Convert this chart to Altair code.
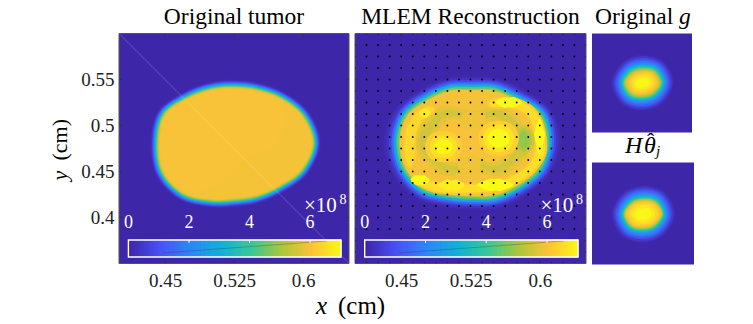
import math
import altair as alt
import pandas as pd

SERIF = "Liberation Serif"
PARULA = ["#3e26a8", "#4852f4", "#2d87f7", "#12b1d6", "#37c897", "#abc739", "#fec338", "#f9fb14"]
CB_MAX = 7.02
FILL = alt.Scale(domain=[CB_MAX * i / 7 for i in range(8)], range=PARULA, interpolate="rgb")

# ---- Original tumor: contour level, then radius (1e-3 cm) at 16 compass steps
T_CENTER = (0.5258, 0.4810)
T_RINGS = [
    (0.1,  [94,88,78,71,69,72,79,91,92,93,87,76,70,71,76,87]),
    (0.3,  [93,87,77,70,68,71,78,90,91,92,86,75,69,70,75,86]),
    (0.7,  [92,86,76,69,67,70,77,89,90,91,85,74,68,69,74,85]),
    (1.3,  [91,85,75,68,66,69,76,88,89,90,84,73,67,68,73,84]),
    (2.0,  [90,84,74,67,65,68,75,87,88,89,83,72,66,67,72,83]),
    (2.8,  [89,83,73,66,64,67,74,86,87,88,82,71,65,66,71,82]),
    (3.6,  [88,82,72,65,63,66,73,85,86,87,81,70,64,65,70,81]),
    (4.4,  [87,81,71,64,62,65,72,84,85,86,80,69,63,64,69,80]),
    (5.2,  [86,80,70,63,61,64,71,83,84,85,79,68,62,63,68,79]),
    (5.6,  [85,79,69,62,60,63,70,82,83,84,78,67,61,62,67,78]),
    (5.9,  [84,78,68,61,59,62,69,81,82,83,77,66,60,61,66,77]),
    (5.95, [45,60,66,60,58,60,67,79,80,80,73,50,30,22,22,30]),
]

# ---- MLEM reconstruction
M_CENTER = (0.5265, 0.4824)
M_RINGS = [
    (0.1,  [97,93,80,75,71,75,80,91,96,93,87,77,74,78,83,92]),
    (0.3,  [94,91,78,73,69,73,78,89,93,91,85,75,72,76,81,90]),
    (0.7,  [91,89,76,71,67,71,76,86,90,88,83,73,70,74,79,88]),
    (1.3,  [89,87,74,69,65,69,74,84,87,86,81,71,68,72,77,86]),
    (2.0,  [87,85,72,67,63,67,72,82,85,84,79,69,66,70,75,84]),
    (2.8,  [86,84,71,66,62,66,71,81,84,83,78,68,65,69,74,83]),
    (3.6,  [84,82,69,64,60,64,69,79,82,81,76,66,63,67,72,81]),
    (4.4,  [83,81,68,63,59,63,68,78,81,80,75,65,62,66,71,80]),
    (5.2,  [81,79,66,61,57,61,66,76,79,78,73,63,60,64,69,78]),
    (5.9,  [80,78,65,60,56,60,65,75,78,77,72,62,59,63,68,77]),
]
# level, centre x, centre y, radius at 8 compass steps
M_BLOBS_LOW = [
    (5.7,  0.5283, 0.4824, [64,50,34,52,64,50,32,50]),
    (5.5,  0.5283, 0.4824, [60,46,29,47,60,45,27,45]),
    (5.7,  0.5283, 0.4824, [50,37,21,39,50,37,21,37]),
    (5.95, 0.5283, 0.4824, [45,32,16,34,45,32,16,32]),
]
M_BARS = [
    (5.85, [0.5174,0.5391,0.5391,0.5174], [0.5132,0.5132,0.4969,0.4969]),
    (5.85, [0.5138,0.5337,0.5337,0.5138], [0.4643,0.4643,0.4498,0.4498]),
]
M_ARC_X = [0.5482,0.5736,0.5953,0.6044,0.6044,0.5917,0.5736,0.5482,0.5156,0.4866,0.4649,0.4667,0.4902,0.5192,0.5482,0.5700,0.5881,0.5953,0.5946,0.5863,0.5700,0.5482]
M_ARC_Y = [0.5270,0.5277,0.5150,0.4915,0.4679,0.4498,0.4371,0.4291,0.4270,0.4291,0.4389,0.4444,0.4371,0.4353,0.4371,0.4444,0.4570,0.4733,0.4951,0.5114,0.5197,0.5204]
M_LEFT_X = [0.4558,0.4667,0.4812,0.4848,0.4721,0.4649,0.4649,0.4594,0.4540]
M_LEFT_Y = [0.4951,0.5132,0.5204,0.5150,0.5060,0.4878,0.4661,0.4552,0.4697]
M_BLOBS_HIGH = [
    (7.0,  0.5997, 0.4896, [6,7,18,7,6,7,22,7]),
    (7.0,  0.5518, 0.4353, [20,9,6,9,20,9,6,9]),
    (7.0,  0.5663, 0.5252, [14,8,5,8,14,8,5,8]),
    (7.0,  0.4703, 0.4407, [10,7,5,7,10,7,5,7]),
    (6.8,  0.4757, 0.5132, [6,5,5,5,6,5,5,5]),
    (6.8,  0.5047, 0.4353, [14,8,5,8,14,8,5,8]),
    (5.5,  0.5826, 0.4842, [12,13,16,13,12,13,16,13]),
    (5.1,  0.5826, 0.4842, [9,10,13,10,9,10,13,10]),
    (4.8,  0.5826, 0.4842, [6,7,10,7,6,7,10,7]),
    (6.2,  0.5555, 0.4860, [22,21,19,21,22,21,19,21]),
    (6.6,  0.5555, 0.4860, [17,16,15,16,17,16,15,16]),
    (7.0,  0.5555, 0.4860, [12,11,10,11,12,11,10,11]),
    (6.2,  0.4957, 0.4770, [20,19,17,19,20,19,17,19]),
    (6.55, 0.4957, 0.4770, [15,14,12,14,15,14,12,14]),
    (6.9,  0.4957, 0.4770, [10,9,8,9,10,9,8,9]),
]

# ---- small panels, percent-of-panel coordinates: E, NE, N, NW (opposite side mirrors)
G_CENTER = (50.6, 50.2)
G_RINGS = [
    (0.1, [31.5,30.6,28.5,29.4]), (0.4, [30,29.1,27,27.9]), (0.8, [28,27.1,25,25.9]),
    (1.2, [26.5,25.6,23.5,24.4]), (1.6, [25,24.1,22,22.9]), (2.0, [23.8,22.7,20.5,21.5]),
    (2.5, [22.6,21.4,19,20.2]), (3.0, [21.6,20.4,18,19.2]), (3.5, [20.7,19.4,17,18.2]),
    (4.0, [19.8,18.4,16,17.2]), (4.5, [19,17.4,15,16.2]), (5.0, [18.2,16.5,14,15.3]),
    (5.4, [17.3,15.5,13,14.3]), (5.8, [15.8,14.2,11.8,13]), (6.1, [14,12.7,10.5,11.5]),
    (6.4, [12,11,9,9.8]), (6.7, [9.5,8.7,7,7.5]), (6.95, [7,6.3,4.5,5.1]),
]
H_CENTER = (50.3, 49.5)
H_RINGS = [
    (0.1, [31.5,30.6,28.5,29.4]), (0.4, [30,29.1,27,27.9]), (0.8, [28,27.1,25,25.9]),
    (1.2, [26.5,25.6,23.5,24.4]), (1.6, [25,24.1,22,22.9]), (2.0, [23.8,22.7,20.5,21.5]),
    (2.5, [22.6,21.4,19,20.2]), (3.0, [21.6,20.4,18,19.2]), (3.5, [20.7,19.4,17,18.2]),
    (4.0, [19.8,18.4,16,17.2]), (4.5, [19.3,17.7,15.3,16.6]), (5.0, [18.8,17,14.6,15.9]),
    (5.4, [18.2,16.3,13.8,15]), (5.8, [17.2,15.3,12.8,14.3]), (6.1, [15.8,14.2,11.8,13.3]),
    (6.4, [14,12.7,10.5,11.7]), (6.7, [11.5,10.2,8.5,9.5]), (6.95, [8.5,7.5,5.5,6.5]),
]

X_TICKS = [0.45, 0.525, 0.6]
Y_TICKS = [0.4, 0.45, 0.5, 0.55]
X_DOMAIN = [0.4, 0.65]
Y_DOMAIN = [0.35, 0.6]
CB_LABELS = [0, 2, 4, 6]
DOT_X = [0.4,0.4125,0.425,0.4375,0.45,0.4625,0.475,0.4875,0.5,0.5125,0.525,0.5375,0.55,0.5625,0.575,0.5875,0.6,0.6125,0.625,0.6375,0.65]
DOT_Y = [0.35,0.3625,0.375,0.3875,0.4,0.4125,0.425,0.4375,0.45,0.4625,0.475,0.4875,0.5,0.5125,0.525,0.5375,0.55,0.5625,0.575,0.5875,0.6]
CB_SLASH_X = [1.13, 6.55]
CB_SLASH_Y = [0.24, 0.94]
DIAG_X = [0.4, 0.65]
DIAG_Y = [0.6, 0.35]


def polar(rows, center, unit, store, key):
    for n, (lv, rad) in enumerate(rows):
        step = 2 * math.pi / len(rad)
        for i, r in enumerate(rad):
            store.append(dict(x=center[0] + r * unit * math.cos(i * step),
                              y=center[1] + r * unit * math.sin(i * step),
                              i=i, ring=f"{key}{n:02d}", level=lv, w=0))


def poly(lv, xs, ys, store, key, w=0):
    for i, (a, b) in enumerate(zip(xs, ys)):
        store.append(dict(x=a, y=b, i=i, ring=key, level=lv, w=w))


def axis_x():
    return alt.Axis(values=X_TICKS, format=".3~g", title=None, ticks=False, domain=False, grid=False,
                    labelFont=SERIF, labelFontSize=19, labelColor="#222222", labelPadding=8)


def axis_y():
    return alt.Axis(values=Y_TICKS, format=".3~g", title=None, ticks=False, domain=False, grid=False,
                    labelFont=SERIF, labelFontSize=19, labelColor="#222222", labelPadding=5)


def axis_unit(show_y=True):
    """Unit layer directly under the panel that carries the tick labels."""
    df = pd.DataFrame(dict(x=X_DOMAIN, y=Y_DOMAIN))
    return alt.Chart(df).mark_point(opacity=0).encode(
        x=alt.X("x:Q", scale=alt.Scale(domain=X_DOMAIN), axis=axis_x()),
        y=alt.Y("y:Q", scale=alt.Scale(domain=Y_DOMAIN), axis=axis_y() if show_y else None),
    )


def field(records, xs, ys):
    return alt.Chart(pd.DataFrame(records)).mark_line(
        interpolate="cardinal-closed", tension=0, clip=True
    ).encode(
        x=alt.X("x:Q", scale=alt.Scale(domain=xs), axis=None),
        y=alt.Y("y:Q", scale=alt.Scale(domain=ys), axis=None),
        order="i:Q",
        detail="ring:N",
        fill=alt.Fill("level:Q", scale=FILL, legend=None),
        stroke=alt.Stroke("level:Q", scale=FILL, legend=None),
        strokeWidth=alt.StrokeWidth("w:Q", scale=None),
    )


ONE = pd.DataFrame({"a": [0]})


def label(text, px, py, size, color="black", style="normal", align="left", angle=0):
    return alt.Chart(ONE).mark_text(
        font=SERIF, fontSize=size, fontStyle=style, color=color, align=align,
        baseline="alphabetic", angle=angle
    ).encode(x=alt.value(px), y=alt.value(py), text=alt.value(text))


def colorbar(r0, r1, height_top, height_bot):
    xs = alt.Scale(domain=[0, CB_MAX], range=[r0, r1])
    ys = alt.Scale(domain=[0, 1], range=[height_bot, height_top])
    lo = [CB_MAX * i / 64 for i in range(64)]
    hi = [CB_MAX * (i + 1) / 64 for i in range(64)]
    cells = alt.Chart(pd.DataFrame(dict(lo=lo, hi=hi, b=[0] * 64, t=[1] * 64))).mark_rect(strokeWidth=1).encode(
        x=alt.X("lo:Q", scale=xs, axis=None), x2="hi:Q",
        y=alt.Y("b:Q", scale=ys, axis=None), y2="t:Q",
        fill=alt.Fill("lo:Q", scale=FILL, legend=None),
        stroke=alt.Stroke("lo:Q", scale=FILL, legend=None),
    )
    slash = alt.Chart(pd.DataFrame(dict(x=CB_SLASH_X, y=CB_SLASH_Y))).mark_line(
        color="#333366", strokeWidth=0.7, opacity=0.45
    ).encode(x=alt.X("x:Q", scale=xs, axis=None), y=alt.Y("y:Q", scale=ys, axis=None))
    border = alt.Chart(ONE).mark_rect(filled=False, stroke="white", strokeWidth=1.4).encode(
        x=alt.value(r0), x2=alt.value(r1), y=alt.value(height_top), y2=alt.value(height_bot))
    lab_df = pd.DataFrame(dict(v=CB_LABELS, s=[str(v) for v in CB_LABELS]))
    ticks = alt.Chart(lab_df[lab_df.v > 0]).mark_rule(color="white", strokeWidth=1).encode(
        x=alt.X("v:Q", scale=xs, axis=None), y=alt.value(height_top), y2=alt.value(height_top + 3))
    texts = alt.Chart(lab_df).mark_text(font=SERIF, fontSize=18, color="white", baseline="alphabetic").encode(
        x=alt.X("v:Q", scale=xs, axis=None), y=alt.value(194), text="s:N")
    return alt.layer(cells, slash, border, ticks, texts)


def frame_ticks(w, h):
    xs = alt.Scale(domain=X_DOMAIN)
    ys = alt.Scale(domain=Y_DOMAIN)
    xdf = pd.DataFrame(dict(v=X_TICKS))
    ydf = pd.DataFrame(dict(v=Y_TICKS))
    layers = []
    for a, b in ((h, h - 3), (0, 3)):
        layers.append(alt.Chart(xdf).mark_rule(color="#333333", strokeWidth=1).encode(
            x=alt.X("v:Q", scale=xs, axis=None), y=alt.value(a), y2=alt.value(b)))
    for a, b in ((0, 3), (w, w - 3)):
        layers.append(alt.Chart(ydf).mark_rule(color="#333333", strokeWidth=1).encode(
            y=alt.Y("v:Q", scale=ys, axis=None), x=alt.value(a), x2=alt.value(b)))
    border = alt.Chart(ONE).mark_rect(filled=False, stroke="#555555", strokeWidth=1).encode(
        x=alt.value(0), x2=alt.value(w), y=alt.value(0), y2=alt.value(h))
    return layers + [border]


VIEW = alt.ViewConfig(fill=PARULA[0], stroke=None)

# panel 1
rec = []
polar(T_RINGS, T_CENTER, 0.001, rec, "t")
diag = alt.Chart(pd.DataFrame(dict(x=DIAG_X, y=DIAG_Y))).mark_line(
    color="white", strokeWidth=1, opacity=0.2, clip=True
).encode(x=alt.X("x:Q", scale=alt.Scale(domain=X_DOMAIN), axis=None),
         y=alt.Y("y:Q", scale=alt.Scale(domain=Y_DOMAIN), axis=None))
main1 = alt.layer(field(rec, X_DOMAIN, Y_DOMAIN), diag, *frame_ticks(230, 230))
cb1 = colorbar(9.4, 222, 206.5, 223.5)
text1 = alt.layer(
    label("Original tumor", 115, -10, 23.5, align="center"),
    label("×10", 185, 178, 21, color="white"),
    label("8", 220.5, 170, 14, color="white"),
    label("x", 197, 280, 25, style="italic"),
    label("(cm)", 219, 280, 25),
    label("y", -52, 147, 22, style="italic", angle=270),
    label("(cm)", -52, 127, 22, angle=270),
)
p1 = alt.layer(axis_unit(True), main1, cb1, text1).resolve_scale(x="independent", y="independent").properties(
    width=230, height=230, view=VIEW)

# panel 2
rec = []
polar(M_RINGS, M_CENTER, 0.001, rec, "m")
for n, (lv, cx, cy, rad) in enumerate(M_BLOBS_LOW):
    polar([(lv, rad)], (cx, cy), 0.001, rec, f"n{n}")
for n, (lv, xs, ys) in enumerate(M_BARS):
    poly(lv, xs, ys, rec, f"o{n}")
poly(6.1, M_ARC_X, M_ARC_Y, rec, "p0", w=4)
poly(6.1, M_LEFT_X, M_LEFT_Y, rec, "p1", w=3)
poly(6.5, M_ARC_X, M_ARC_Y, rec, "p2")
poly(6.4, M_LEFT_X, M_LEFT_Y, rec, "p3")
for n, (lv, cx, cy, rad) in enumerate(M_BLOBS_HIGH):
    polar([(lv, rad)], (cx, cy), 0.001, rec, f"q{n}")
dots = pd.DataFrame([dict(x=a, y=b) for a in DOT_X for b in DOT_Y])
dot_layer = alt.Chart(dots).mark_circle(size=3.5, color="black", opacity=1, clip=True).encode(
    x=alt.X("x:Q", scale=alt.Scale(domain=X_DOMAIN), axis=None),
    y=alt.Y("y:Q", scale=alt.Scale(domain=Y_DOMAIN), axis=None))
main2 = alt.layer(field(rec, X_DOMAIN, Y_DOMAIN), dot_layer, *frame_ticks(231, 230))
cb2 = colorbar(9.7, 223, 206.5, 223.5)
text2 = alt.layer(
    label("MLEM Reconstruction", 115.5, -10, 23.5, align="center"),
    label("×10", 185.4, 178, 21, color="white"),
    label("8", 221, 170, 14, color="white"),
)
p2 = alt.layer(axis_unit(False), main2, cb2, text2).resolve_scale(x="independent", y="independent").properties(
    width=231, height=230, view=VIEW)

# panel 3 and 4
rec = []
polar([(lv, r + r) for lv, r in G_RINGS], G_CENTER, 1, rec, "g")
p3 = alt.layer(
    field(rec, [0, 100], [0, 100]),
    label("Original", 3, -10, 23.5),
    label("g", 87, -10, 23.5, style="italic"),
).properties(width=100, height=99, view=VIEW)

rec = []
polar([(lv, r + r) for lv, r in H_RINGS], H_CENTER, 1, rec, "h")
p4 = alt.layer(
    field(rec, [0, 100], [0, 100]),
    label("H", 33, -9.5, 24, style="italic"),
    label("θ", 52, -9.5, 24, style="italic"),
    label("ˆ", 58.7, -14.5, 22, align="center"),
    label("j", 64, -6.5, 15, style="italic"),
).properties(width=102, height=102, view=VIEW)

right = alt.vconcat(p3, p4, spacing=30, bounds="flush")
chart = alt.hconcat(p1, p2, right, spacing=6, bounds="flush").properties(
    padding={"left": 41, "top": -3.5, "right": 0, "bottom": 0}
).configure_view(stroke=None)

chart.save("out.html", embed_options={"renderer": "svg", "actions": False})
